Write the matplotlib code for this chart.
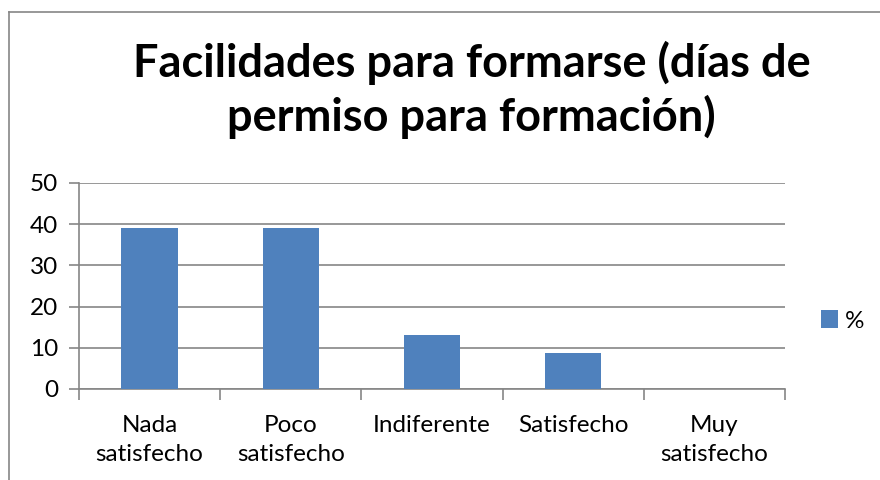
import matplotlib.pyplot as plt
import numpy as np
from matplotlib.lines import Line2D

BLUE = "#4F81BD"
GREY = "#868686"

categorias = ["Nada\nsatisfecho", "Poco\nsatisfecho", "Indiferente", "Satisfecho", "Muy\nsatisfecho"]
porcentajes = [39, 39, 13, 8.7, 0]
yticks = [0, 10, 20, 30, 40, 50]

plt.rcParams['font.family'] = ['Lato', 'DejaVu Sans']

fig = plt.figure(figsize=(8.8, 4.8), dpi=100)
ax = fig.add_axes([0.0898, 0.1896, 0.8023, 0.4292])

x = np.arange(len(categorias))
ax.bar(x, porcentajes, width=0.4, color=BLUE, label="%", zorder=3)

ax.set_xlim(-0.5, len(categorias) - 0.5)
ax.set_ylim(0, 50)
ax.set_yticks(yticks)
ax.set_xticks(x)
ax.set_xticklabels(categorias, fontsize=17.5, linespacing=1.45)
ax.set_xticks(np.arange(len(categorias) + 1) - 0.5, minor=True)
ax.tick_params(axis='x', which='major', length=0, pad=19)
ax.tick_params(axis='x', which='minor', length=8, color=GREY, width=1.2)
ax.tick_params(axis='y', length=7, color=GREY, width=1.2, labelsize=17.5, pad=8)

ax.grid(axis='y', color=GREY, linewidth=1.2, zorder=0)
for s in ['top', 'right']:
    ax.spines[s].set_visible(False)
for s in ['left', 'bottom']:
    ax.spines[s].set_color(GREY)
    ax.spines[s].set_linewidth(1.2)

fig.text(0.536, 0.812, "Facilidades para formarse (días de\npermiso para formación)",
         ha='center', va='center', fontsize=32.5, fontweight='bold', linespacing=1.28)

ax.legend(loc='center left', bbox_to_anchor=(1.02, 0.33), frameon=False, fontsize=17.5,
          handlelength=0.7, handleheight=0.7, handletextpad=0.3)

# chart frame
fig.add_artist(Line2D([0.0102, 1.0], [0.975, 0.975], color=GREY, linewidth=1.2))
fig.add_artist(Line2D([0.0102, 0.0102], [0.0, 0.975], color=GREY, linewidth=1.2))

fig.savefig("out.png", dpi=100)
